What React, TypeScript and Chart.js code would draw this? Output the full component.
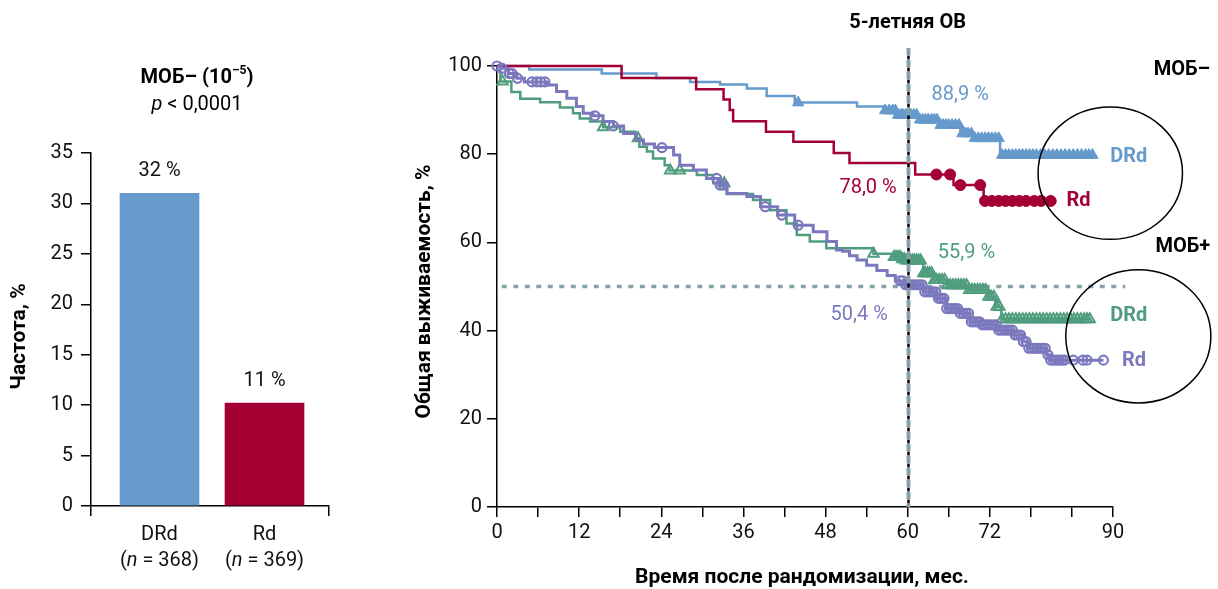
import React, { useEffect, useRef } from 'react';
import { Chart, registerables } from 'chart.js';

Chart.register(...registerables);

const FONT = 'Roboto, "Liberation Sans", Arial, sans-serif';

// ---------- Left: bar chart ----------
const BAR_CATEGORIES = ['DRd', 'Rd'];
const BAR_N = [368, 369];
const BAR_VALUES = [31.0, 10.2];
const BAR_LABELS = ['32 %', '11 %'];
const BAR_COLORS = ['#6699CC', '#A50034'];
const BAR_Y_MAX = 35;
const BAR_Y_STEP = 5;

// ---------- Right: Kaplan-Meier curves ----------
// MRD-negative, DRd
const NEG_DRD_T = [0, 4.7, 15.3, 23.3, 28.2, 32.6, 36.5, 39.4, 43.5, 52.6, 56.7, 58.4, 61.5, 64.5, 67.7, 69.6, 73.5];
const NEG_DRD_S = [100, 99.2, 98.3, 97.3, 96.4, 95.8, 94.9, 93.2, 91.7, 90.8, 89.9, 88.9, 87.8, 86.6, 84.7, 83.6, 79.8];
const NEG_DRD_END = 87.0;
const NEG_DRD_CENS = [44, 56.7, 57.3, 57.8, 58.2, 58.6, 59.0, 59.3, 59.7, 60.1, 60.5, 60.9, 61.3, 61.8, 62.2, 62.6, 63.0, 63.5, 63.9, 64.3, 64.8, 65.2, 65.6, 66.0, 66.5, 67.0, 67.5, 68.0, 68.4, 68.8, 69.3, 69.8, 70.3, 70.8, 71.3, 71.8, 72.3, 72.8, 73.3, 73.8, 74.3, 74.8, 75.3, 75.8, 76.3, 76.8, 77.3, 77.8, 78.3, 78.8, 79.4, 80.0, 80.6, 81.2, 81.8, 82.4, 83.0, 83.6, 84.2, 84.8, 85.4, 86.0, 86.5, 87.0];

// MRD-negative, Rd
const NEG_RD_T = [0, 18.2, 29.1, 33.1, 34.0, 34.5, 39.3, 43.3, 49.2, 51.5, 61.1, 66.7, 71.1];
const NEG_RD_S = [100, 97.3, 94.7, 92.4, 90.0, 87.5, 85.1, 82.8, 80.3, 78.0, 75.4, 73.0, 69.4];
const NEG_RD_END = 80.9;
const NEG_RD_CENS = [64.2, 66.2, 67.7, 70.6, 71.3, 72.3, 73.3, 74.3, 75.3, 76.3, 77.3, 78.5, 79.5, 80.9];

// MRD-positive, DRd
const POS_DRD_T = [0, 0.5, 2.1, 3.4, 6.3, 9.2, 11.1, 12.1, 13.6, 15.5, 18, 20.2, 20.8, 21.9, 22.8, 24.5, 25.2, 29.2, 31.6, 33.6, 37.4, 39.9, 42.3, 43.8, 45.7, 48.1, 55.0, 58.0, 59.0, 59.6, 62.3, 63.8, 65.7, 68.7, 71.6, 72.8, 73.7];
const POS_DRD_S = [100, 96.5, 94.1, 92.6, 91.8, 90.6, 89.3, 88.1, 87.4, 86.1, 85.1, 83.6, 81.7, 80.6, 79.0, 77.5, 76.3, 75.3, 73.4, 71.0, 69.6, 67.3, 64.3, 61.7, 60.2, 58.7, 57.4, 56.7, 56.2, 55.9, 53.0, 51.5, 50.3, 49.2, 47.7, 45.4, 42.6];
const POS_DRD_END = 86.6;
const POS_DRD_CENS = [0.8, 15.5, 20.6, 25.3, 26.7, 33.2, 55.0, 58.0, 58.3, 58.6, 58.9, 59.2, 59.5, 59.8, 60.1, 60.4, 60.7, 61.0, 61.3, 61.6, 61.9, 62.3, 62.6, 62.9, 63.2, 63.5, 63.9, 64.2, 64.6, 65.0, 65.4, 65.8, 66.2, 66.6, 67.0, 67.4, 67.8, 68.2, 68.6, 69.0, 69.4, 69.8, 70.2, 70.6, 71.0, 71.4, 71.8, 72.2, 72.6, 73.0, 73.4, 73.8, 74.3, 74.8, 75.3, 75.8, 76.3, 76.8, 77.3, 77.8, 78.3, 78.8, 79.3, 79.8, 80.3, 80.8, 81.3, 81.8, 82.3, 82.8, 83.3, 83.8, 84.3, 84.8, 85.3, 85.8, 86.2, 86.6];

// MRD-positive, Rd
const POS_RD_T = [0, 0.7, 1.7, 2.9, 4.0, 7.3, 8.7, 10.2, 11.6, 12.6, 14.0, 15.5, 17.0, 18.5, 20.4, 21.4, 23.0, 25.8, 26.7, 28.7, 30.6, 32.4, 33.6, 36.5, 38.5, 41.0, 43.5, 46.2, 48.2, 49.6, 50.5, 51.5, 52.6, 54.0, 55.5, 57.0, 58.2, 59.5, 62.3, 64.2, 65.7, 67.7, 69.1, 70.6, 73.0, 75.4, 76.9, 77.6, 80.3, 80.8];
const POS_RD_S = [100, 99.5, 98.3, 97.2, 96.4, 95.7, 94.2, 92.7, 90.8, 89.3, 88.7, 87.4, 86.4, 84.7, 83.2, 82.3, 81.5, 79.8, 77.5, 76.4, 74.5, 73.0, 71.1, 70.4, 68.1, 66.2, 63.9, 62.4, 60.2, 58.3, 58.0, 57.0, 56.0, 54.8, 53.6, 52.5, 51.3, 50.4, 48.8, 47.3, 45.0, 43.9, 42.0, 41.3, 40.1, 39.0, 37.5, 36.0, 34.5, 33.3];
const POS_RD_END = 88.6;
const POS_RD_CENS = [0, 0.7, 1.8, 2.2, 3.0, 5.1, 5.8, 6.4, 7.0, 14.3, 17.0, 24.1, 32.1, 32.6, 33.1, 39.2, 41.6, 44.0, 58.9, 59.3, 59.7, 60.1, 60.5, 60.9, 61.3, 61.7, 62.1, 62.5, 62.9, 63.3, 63.7, 64.1, 64.5, 64.9, 65.3, 65.7, 66.1, 66.5, 66.9, 67.3, 67.7, 68.1, 68.5, 68.9, 69.3, 69.7, 70.1, 70.5, 70.9, 71.3, 71.7, 72.1, 72.5, 72.9, 73.3, 73.7, 74.1, 74.5, 74.9, 75.3, 75.7, 76.1, 76.5, 76.9, 77.3, 77.7, 78.1, 78.5, 78.9, 79.3, 79.7, 80.1, 80.5, 80.9, 81.3, 81.7, 82.1, 82.5, 82.9, 84.2, 85.6, 86.2, 88.6];

const KM_X_MAX = 90;
const KM_X_STEP = 6;
const KM_X_LABELS = [0, 12, 24, 36, 48, 60, 72, 90];
const KM_Y_MAX = 100;
const KM_Y_STEP = 20;

const LANDMARK_MONTH = 60;
const LANDMARK_TOP = 104.1;
const MEDIAN_LEVEL = 50;
const MEDIAN_FROM = 0.7;
const MEDIAN_TO = 91.8;

const BLUE = '#6699CC';
const RED = '#A50034';
const GREEN = '#4F9D7E';
const PURPLE = '#7B78BE';
const REF_GREY = '#86A0AC';

// annotation texts (in data units)
const KM_TEXTS = [
  { text: '88,9 %', x: 63.5, y: 93.4, color: BLUE, align: 'left', bold: false },
  { text: '78,0 %', x: 58.4, y: 72.3, color: RED, align: 'right', bold: false },
  { text: '55,9 %', x: 64.4, y: 57.5, color: GREEN, align: 'left', bold: false },
  { text: '50,4 %', x: 57.1, y: 43.5, color: PURPLE, align: 'right', bold: false },
  { text: 'DRd', x: 89.6, y: 79.4, color: BLUE, align: 'left', bold: true },
  { text: 'Rd', x: 83.2, y: 69.4, color: RED, align: 'left', bold: true },
  { text: 'DRd', x: 89.6, y: 43.4, color: GREEN, align: 'left', bold: true },
  { text: 'Rd', x: 91.3, y: 33.1, color: PURPLE, align: 'left', bold: true },
  { text: 'МОБ–', x: 104.2, y: 99.1, color: '#000', align: 'right', bold: true },
  { text: 'МОБ+', x: 104.2, y: 58.9, color: '#000', align: 'right', bold: true },
  { text: '5-летняя ОВ', x: 60, y: 109.8, color: '#000', align: 'center', bold: true },
];
const KM_ELLIPSES = [
  { cx: 89.6, cy: 75.7, rx: 10.55, ry: 15.0 },
  { cx: 93.7, cy: 38.7, rx: 10.6, ry: 15.1 },
];

function survAt(t: number[], s: number[], x: number) {
  let v = s[0];
  for (let i = 0; i < t.length; i++) if (t[i] <= x) v = s[i];
  return v;
}
function stepData(t: number[], s: number[], end: number) {
  const pts = t.map((x, i) => ({ x, y: s[i] }));
  pts.push({ x: end, y: s[s.length - 1] });
  return pts;
}
function censData(t: number[], s: number[], c: number[]) {
  return c.map((x) => ({ x, y: survAt(t, s, x) }));
}

type Run = { text: string; font: string; dy?: number };
function drawRuns(ctx: CanvasRenderingContext2D, runs: Run[], x: number, y: number, color: string, align = 'center') {
  let total = 0;
  const widths = runs.map((r) => {
    ctx.font = r.font;
    const w = ctx.measureText(r.text).width;
    total += w;
    return w;
  });
  let cx = align === 'center' ? x - total / 2 : align === 'right' ? x - total : x;
  ctx.fillStyle = color;
  ctx.textAlign = 'left';
  ctx.textBaseline = 'middle';
  runs.forEach((r, i) => {
    ctx.font = r.font;
    ctx.fillText(r.text, cx, y + (r.dy || 0));
    cx += widths[i];
  });
}

const leftPlugin = {
  id: 'leftAnno',
  afterDraw(chart: any) {
    const ctx = chart.ctx as CanvasRenderingContext2D;
    const xs = chart.scales.x;
    const ys = chart.scales.y;
    ctx.save();
    drawRuns(ctx, [
      { text: 'МОБ– (10', font: `bold 20px ${FONT}` },
      { text: '–5', font: `bold 12px ${FONT}`, dy: -7 },
      { text: ')', font: `bold 20px ${FONT}` },
    ], 197, 78, '#000');
    drawRuns(ctx, [
      { text: 'p', font: `italic 20px ${FONT}` },
      { text: ' < 0,0001', font: `20px ${FONT}` },
    ], 197, 105, '#000');
    BAR_CATEGORIES.forEach((c, i) => {
      const px = xs.getPixelForValue(i + 1);
      const top = ys.getPixelForValue(BAR_VALUES[i]);
      drawRuns(ctx, [{ text: BAR_LABELS[i], font: `20px ${FONT}` }], px, top - 22, '#111');
      drawRuns(ctx, [{ text: c, font: `20px ${FONT}` }], px, 535, '#111');
      drawRuns(ctx, [
        { text: '(', font: `20px ${FONT}` },
        { text: 'n', font: `italic 20px ${FONT}` },
        { text: ` = ${BAR_N[i]})`, font: `20px ${FONT}` },
      ], px, 561, '#111');
    });
    ctx.translate(20, (ys.top + ys.bottom) / 2 + 7);
    ctx.rotate(-Math.PI / 2);
    drawRuns(ctx, [{ text: 'Частота, %', font: `bold 21px ${FONT}` }], 0, 0, '#000');
    ctx.restore();
  },
};

const rightPlugin = {
  id: 'rightAnno',
  beforeDatasetsDraw(chart: any) {
    const ctx = chart.ctx as CanvasRenderingContext2D;
    const xs = chart.scales.x;
    const ys = chart.scales.y;
    ctx.save();
    ctx.strokeStyle = REF_GREY;
    ctx.lineWidth = 3.5;
    ctx.setLineDash([5, 6.5]);
    const yy = ys.getPixelForValue(MEDIAN_LEVEL);
    ctx.beginPath();
    ctx.moveTo(xs.getPixelForValue(MEDIAN_FROM), yy);
    ctx.lineTo(xs.getPixelForValue(MEDIAN_TO), yy);
    ctx.stroke();
    ctx.restore();
  },
  afterDatasetsDraw(chart: any) {
    const ctx = chart.ctx as CanvasRenderingContext2D;
    const xs = chart.scales.x;
    const ys = chart.scales.y;
    const x = Math.round(xs.getPixelForValue(LANDMARK_MONTH)) + 0.5;
    const y0 = ys.getPixelForValue(LANDMARK_TOP);
    const y1 = ys.getPixelForValue(0);
    ctx.save();
    ctx.strokeStyle = REF_GREY;
    ctx.lineWidth = 4;
    ctx.setLineDash([7, 5]);
    ctx.beginPath();
    ctx.moveTo(x, y0);
    ctx.lineTo(x, y1);
    ctx.stroke();
    ctx.strokeStyle = '#000';
    ctx.lineWidth = 2.5;
    ctx.setLineDash([4, 8]);
    ctx.lineDashOffset = -7.5;
    ctx.beginPath();
    ctx.moveTo(x, y0);
    ctx.lineTo(x, y1);
    ctx.stroke();
    ctx.restore();
  },
  afterDraw(chart: any) {
    const ctx = chart.ctx as CanvasRenderingContext2D;
    const xs = chart.scales.x;
    const ys = chart.scales.y;
    ctx.save();
    KM_TEXTS.forEach((t) => {
      drawRuns(ctx, [{ text: t.text, font: `${t.bold ? 'bold ' : ''}20px ${FONT}` }],
        xs.getPixelForValue(t.x), ys.getPixelForValue(t.y), t.color, t.align);
    });
    ctx.strokeStyle = '#000';
    ctx.lineWidth = 1.5;
    KM_ELLIPSES.forEach((e) => {
      const cx = xs.getPixelForValue(e.cx);
      const cy = ys.getPixelForValue(e.cy);
      const rx = xs.getPixelForValue(e.cx + e.rx) - cx;
      const ry = cy - ys.getPixelForValue(e.cy + e.ry);
      ctx.beginPath();
      ctx.ellipse(cx, cy, rx, ry, 0, 0, Math.PI * 2);
      ctx.stroke();
    });
    drawRuns(ctx, [{ text: 'Время после рандомизации, мес.', font: `bold 21px ${FONT}` }],
      (xs.left + xs.right) / 2 - 3, 578, '#000');
    ctx.translate(425 - 345, (ys.top + ys.bottom) / 2 + 5);
    ctx.rotate(-Math.PI / 2);
    drawRuns(ctx, [{ text: 'Общая выживаемость, %', font: `bold 21px ${FONT}` }], 0, 0, '#000');
    ctx.restore();
  },
};

export default function App() {
  const leftRef = useRef<HTMLCanvasElement>(null);
  const rightRef = useRef<HTMLCanvasElement>(null);

  useEffect(() => {
    const tickFont = { family: FONT, size: 20 };
    const left = new Chart(leftRef.current as HTMLCanvasElement, {
      type: 'bar',
      data: {
        datasets: [{
          data: BAR_VALUES.map((v, i) => ({ x: i + 1, y: v })),
          backgroundColor: BAR_COLORS,
          barThickness: 79,
        }],
      },
      options: {
        animation: false,
        responsive: false,
        devicePixelRatio: 1,
        layout: { padding: { top: 153, right: 16, left: 0, bottom: 0 } },
        plugins: { legend: { display: false }, tooltip: { enabled: false } },
        scales: {
          x: {
            type: 'linear',
            offset: false,
            min: 0.348,
            max: 2.614,
            afterBuildTicks: (s: any) => { s.ticks = [{ value: s.min }, { value: s.max }]; },
            afterFit: (s: any) => { s.height = 83; },
            ticks: { callback: () => '', font: tickFont },
            grid: { offset: false, drawOnChartArea: false, tickLength: 10, color: '#000', lineWidth: 1.5 },
            border: { color: '#000', width: 1.5 },
          },
          y: {
            min: 0,
            max: BAR_Y_MAX,
            afterFit: (s: any) => { s.width = 91; },
            ticks: { stepSize: BAR_Y_STEP, font: tickFont, color: '#111', padding: 8 },
            grid: { drawOnChartArea: false, tickLength: 10, color: '#000', lineWidth: 1.5 },
            border: { color: '#000', width: 1.5 },
          },
        },
      } as any,
      plugins: [leftPlugin],
    });

    const lineDs = (t: number[], s: number[], end: number, color: string, width: number, order: number) => ({
      type: 'line',
      data: stepData(t, s, end),
      borderColor: color,
      borderWidth: width,
      stepped: 'before',
      pointRadius: 0,
      fill: false,
      clip: false,
      order,
    });
    const censDs = (t: number[], s: number[], c: number[], color: string, style: string, r: number, filled: boolean, bw: number, order: number) => ({
      type: 'scatter',
      data: censData(t, s, c),
      pointStyle: style,
      pointRadius: r,
      backgroundColor: filled ? color : 'rgba(255,255,255,0)',
      borderColor: color,
      borderWidth: bw,
      showLine: false,
      clip: false,
      order,
    });

    const right = new Chart(rightRef.current as HTMLCanvasElement, {
      type: 'scatter',
      data: {
        datasets: [
          censDs(POS_RD_T, POS_RD_S, POS_RD_CENS, PURPLE, 'circle', 4.5, false, 2.2, 1),
          lineDs(POS_RD_T, POS_RD_S, POS_RD_END, PURPLE, 3, 2),
          censDs(POS_DRD_T, POS_DRD_S, POS_DRD_CENS, GREEN, 'triangle', 6, false, 2, 3),
          lineDs(POS_DRD_T, POS_DRD_S, POS_DRD_END, GREEN, 2.5, 4),
          censDs(NEG_RD_T, NEG_RD_S, NEG_RD_CENS, RED, 'circle', 5.5, true, 1, 5),
          lineDs(NEG_RD_T, NEG_RD_S, NEG_RD_END, RED, 2.5, 6),
          censDs(NEG_DRD_T, NEG_DRD_S, NEG_DRD_CENS, BLUE, 'triangle', 6.5, true, 1, 7),
          lineDs(NEG_DRD_T, NEG_DRD_S, NEG_DRD_END, BLUE, 2.5, 8),
        ] as any,
      },
      options: {
        animation: false,
        responsive: false,
        devicePixelRatio: 1,
        layout: { padding: { top: 66, right: 105, left: 0, bottom: 0 } },
        plugins: { legend: { display: false }, tooltip: { enabled: false } },
        scales: {
          x: {
            type: 'linear',
            min: 0,
            max: KM_X_MAX,
            afterFit: (s: any) => { s.height = 82; },
            ticks: {
              stepSize: KM_X_STEP,
              autoSkip: false,
              maxRotation: 0,
              font: tickFont,
              color: '#111',
              padding: 4,
              callback: (v: any) => (KM_X_LABELS.includes(Number(v)) ? String(v) : ''),
            },
            grid: { drawOnChartArea: false, tickLength: 10, color: '#000', lineWidth: 1.5 },
            border: { color: '#000', width: 1.5 },
          },
          y: {
            min: 0,
            max: KM_Y_MAX,
            afterFit: (s: any) => { s.width = 152; },
            ticks: { stepSize: KM_Y_STEP, font: tickFont, color: '#111', padding: 5 },
            grid: { drawOnChartArea: false, tickLength: 10, color: '#000', lineWidth: 1.5 },
            border: { color: '#000', width: 1.5 },
          },
        },
      } as any,
      plugins: [rightPlugin],
    });

    return () => {
      left.destroy();
      right.destroy();
    };
  }, []);

  return (
    <div style={{ position: 'absolute', left: 0, top: 0, width: 1218, height: 589, background: '#fff' }}>
      <canvas ref={leftRef} width={345} height={589} style={{ position: 'absolute', left: 0, top: 0, width: 345, height: 589 }} />
      <canvas ref={rightRef} width={873} height={589} style={{ position: 'absolute', left: 345, top: 0, width: 873, height: 589 }} />
    </div>
  );
}
